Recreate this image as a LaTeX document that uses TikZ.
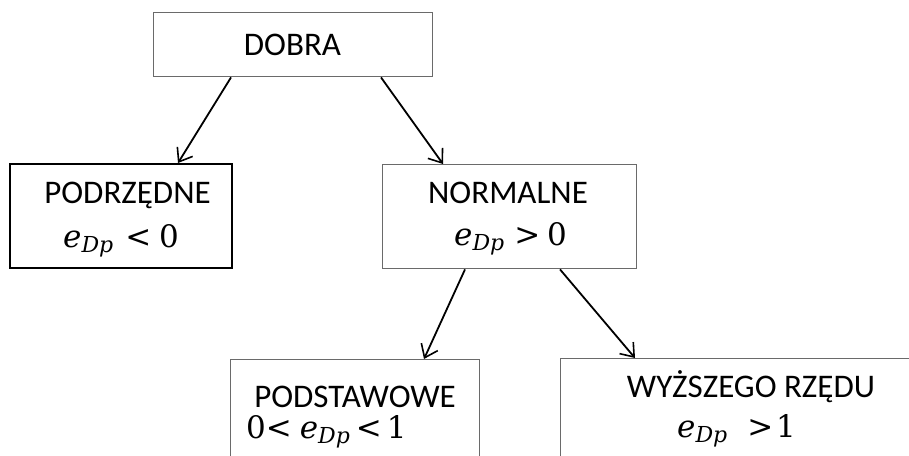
\RequirePackage{fix-cm}
\documentclass[tikz,border=0pt]{standalone}
\usepackage{fontspec}
\setmainfont{Carlito}
\newfontfamily\mathfnt{DejaVu Serif}
\usetikzlibrary{arrows.meta}
\definecolor{boxgray}{HTML}{6A6A6A}
\newcommand\edp{{\itshape e}\raisebox{-5pt}{\fontsize{22}{22}\selectfont\itshape Dp}}
\tikzset{
  boxnode/.style={draw=boxgray, line width=1.4pt, rectangle, inner sep=0pt, anchor=north west, fill=white},
  labeltext/.style={inner sep=0pt, font=\fontsize{33}{38}\selectfont, text=black},
  mathtext/.style={inner sep=0pt, anchor=base west, font=\mathfnt\fontsize{31}{35}\selectfont, text=black},
  conn/.style={line width=1.8pt, -{Straight Barb[length=12pt,width=18pt,line width=1.6pt]}}
}
\begin{document}
\begin{tikzpicture}[x=1pt,y=-1pt]
\clip (0,0) rectangle (909,455);
\fill[white] (0,0) rectangle (909,455);
% boxes
\node[boxnode, minimum width=279pt, minimum height=64pt] (dobra) at (153,12) {};
\node[boxnode, draw=black, line width=2pt, minimum width=222pt, minimum height=104pt] (podrz) at (9,163) {};
\node[boxnode, minimum width=254pt, minimum height=104pt] (normal) at (382,164) {};
\node[boxnode, minimum width=249pt, minimum height=200pt] (podst) at (230,359) {};
\node[boxnode, minimum width=400pt, minimum height=200pt] (wyz) at (560,358) {};
% texts
\node[labeltext, anchor=base] (tdobra) at (292.5,55) {DOBRA};
\node[labeltext, anchor=base] (tpodrz) at (127.5,203) {PODRZĘDNE};
\node[mathtext] (mpodrz) at (63,247) {\edp\hspace{12pt}<\hspace{8pt}0};
\node[labeltext, anchor=base] (tnormal) at (508,203) {NORMALNE};
\node[mathtext] (mnormal) at (454,245) {\edp\hspace{10pt}>\hspace{7pt}0};
\node[labeltext, anchor=base] (tpodst) at (355,407) {PODSTAWOWE};
\node[mathtext] (mpodst) at (246,438) {0\hspace{0pt}<\hspace{8pt}\edp\hspace{6pt}<\hspace{5pt}1};
\node[labeltext, anchor=base] (twyz) at (751,397) {WYŻSZEGO RZĘDU};
\node[mathtext] (mwyz) at (677,437) {\edp\hspace{20pt}>\hspace{3pt}1};
% connectors
\draw[conn] ([xshift=78pt]dobra.south west) -- ([xshift=169pt]podrz.north west);
\draw[conn] ([xshift=228pt]dobra.south west) -- ([xshift=61pt]normal.north west);
\draw[conn] ([xshift=83pt]normal.south west) -- ([xshift=194pt]podst.north west);
\draw[conn] ([xshift=178pt]normal.south west) -- ([xshift=75pt]wyz.north west);
\end{tikzpicture}
\end{document}
